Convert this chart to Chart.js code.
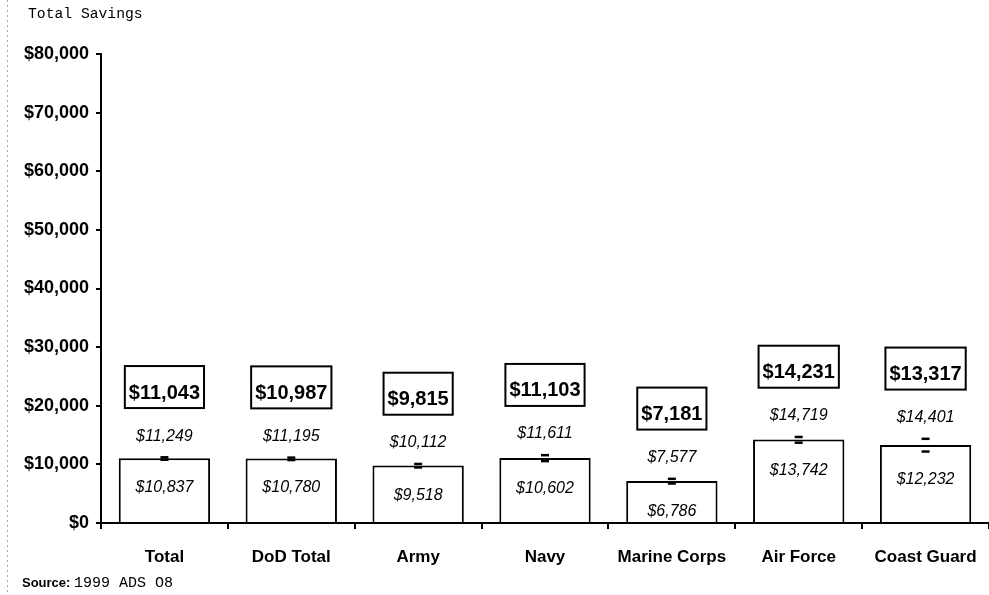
<!DOCTYPE html>
<html>
<head>
<meta charset="utf-8">
<script src="https://cdn.jsdelivr.net/npm/chart.js@4"></script>
<style>
  html, body { margin: 0; padding: 0; background: #fff; }
  #wrap { position: relative; width: 989px; height: 595px; }
</style>
</head>
<body>
<div id="wrap"><canvas id="chart" width="989" height="595"></canvas></div>
<script>
// values
const categories = ['Total', 'DoD Total', 'Army', 'Navy', 'Marine Corps', 'Air Force', 'Coast Guard'];
const estimate = [11043, 10987, 9815, 11103, 7181, 14231, 13317];
const lower = [10837, 10780, 9518, 10602, 6786, 13742, 12232];
const upper = [11249, 11195, 10112, 11611, 7577, 14719, 14401];
const yTicks = [0, 10000, 20000, 30000, 40000, 50000, 60000, 70000, 80000];

const money = v => '$' + Number(v).toLocaleString('en-US');
const SANS = '"Liberation Sans", Arial, sans-serif';
const MONO = '"Liberation Mono", "Courier New", monospace';

// caps, value labels, boxed estimates, title and source
const annotate = {
  id: 'annotate',
  afterDatasetsDraw(chart){
    const ctx = chart.ctx;
    const y = chart.scales.y;
    const bars = chart.getDatasetMeta(0).data;
    ctx.save();
    ctx.fillStyle = '#000';
    ctx.strokeStyle = '#000';
    ctx.textAlign = 'center';
    ctx.textBaseline = 'middle';
    bars.forEach((bar, i) => {
      const x = bar.x;
      const yl = y.getPixelForValue(lower[i]);
      const yu = y.getPixelForValue(upper[i]);
      // error caps
      ctx.fillRect(x - 4, yu - 1, 8, 2.5);
      ctx.fillRect(x - 4, yl - 1, 8, 2.5);
      // interval labels
      ctx.font = 'italic 16px ' + SANS;
      ctx.fillText(money(upper[i]), x, yu - 21);
      ctx.fillText(money(lower[i]), x, yl + 28);
      // boxed estimate
      ctx.font = 'bold 20px ' + SANS;
      const ty = yu - 64;
      const w = ctx.measureText(money(estimate[i])).width;
      ctx.fillText(money(estimate[i]), x, ty);
      ctx.lineWidth = 2;
      ctx.strokeRect(x - w / 2 - 4, ty - 27, w + 8, 42);
    });
    ctx.restore();
  },
  afterDraw(chart){
    const ctx = chart.ctx;
    ctx.save();
    // scan edge on the left
    ctx.strokeStyle = '#aaa';
    ctx.lineWidth = 1;
    ctx.setLineDash([2, 3]);
    ctx.beginPath();
    ctx.moveTo(7.5, 0);
    ctx.lineTo(7.5, 595);
    ctx.stroke();
    ctx.setLineDash([]);
    ctx.fillStyle = '#000';
    ctx.textAlign = 'left';
    ctx.textBaseline = 'alphabetic';
    ctx.font = '14.7px ' + MONO;
    ctx.fillText('Total Savings', 28, 18);
    ctx.font = 'bold 13px ' + SANS;
    ctx.fillText('Source:', 22, 587);
    const sw = ctx.measureText('Source: ').width;
    ctx.font = '15px ' + MONO;
    ctx.fillText('1999 ADS O8', 22 + sw, 587);
    ctx.restore();
  }
};

new Chart(document.getElementById('chart'), {
  type: 'bar',
  data: {
    labels: categories,
    datasets: [{
      data: estimate,
      backgroundColor: '#fff',
      borderColor: '#000',
      borderWidth: 2,
      categoryPercentage: 1,
      barPercentage: 0.72
    }]
  },
  options: {
    responsive: false,
    devicePixelRatio: 1,
    animation: false,
    layout: { padding: { top: 54, left: 0, right: 0, bottom: 0 } },
    plugins: { legend: { display: false }, tooltip: { enabled: false } },
    scales: {
      x: {
        grid: { offset: true, drawOnChartArea: false, tickLength: 6, color: '#000', lineWidth: 2 },
        border: { color: '#000', width: 2 },
        ticks: { color: '#000', padding: 18, font: { family: SANS, size: 17, weight: 'bold' } },
        afterFit(scale){
          scale.height = 72;
          scale.paddingLeft = 0;
          scale.paddingRight = 0;
        }
      },
      y: {
        min: 0,
        max: 80000,
        afterBuildTicks(scale){ scale.ticks = yTicks.map(v => ({ value: v })); },
        grid: { drawOnChartArea: false, tickLength: 5, color: '#000', lineWidth: 2 },
        border: { color: '#000', width: 2 },
        ticks: { color: '#000', padding: 7, font: { family: SANS, size: 18, weight: 'bold' }, callback: v => money(v) },
        afterFit(scale){ scale.width = 101; }
      }
    }
  },
  plugins: [annotate]
});
</script>
</body>
</html>
